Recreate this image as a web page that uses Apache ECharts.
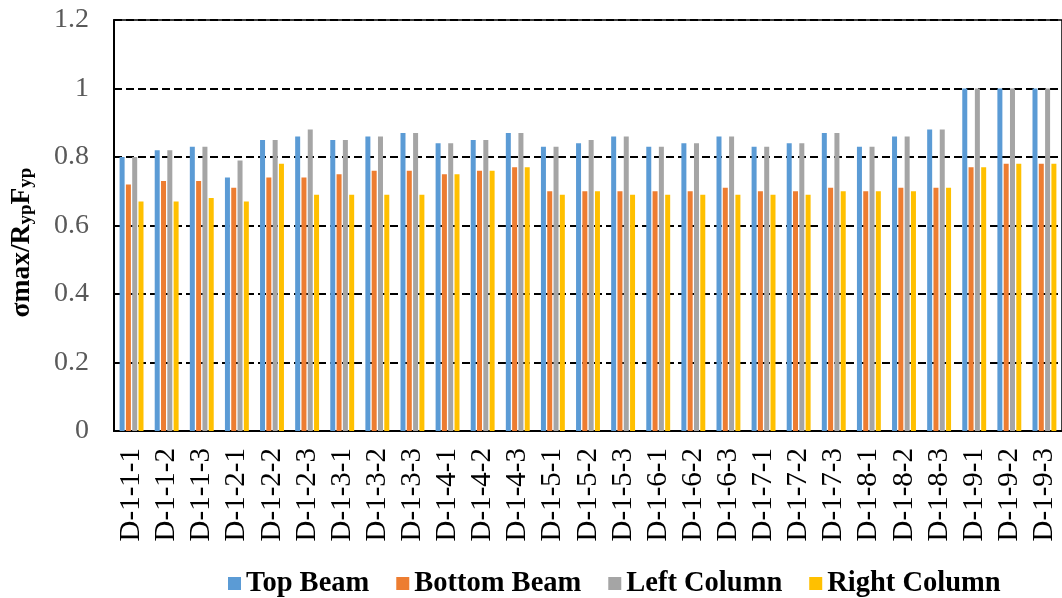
<!DOCTYPE html>
<html>
<head>
<meta charset="utf-8">
<script src="https://cdn.jsdelivr.net/npm/echarts@6/dist/echarts.min.js"></script>
<style>
html,body{margin:0;padding:0;background:#fff;}
#c{width:1062px;height:598px;}
</style>
</head>
<body>
<div id="c"></div>
<script>
const categories = ['D-1-1-1','D-1-1-2','D-1-1-3','D-1-2-1','D-1-2-2','D-1-2-3','D-1-3-1','D-1-3-2','D-1-3-3',
  'D-1-4-1','D-1-4-2','D-1-4-3','D-1-5-1','D-1-5-2','D-1-5-3','D-1-6-1','D-1-6-2','D-1-6-3',
  'D-1-7-1','D-1-7-2','D-1-7-3','D-1-8-1','D-1-8-2','D-1-8-3','D-1-9-1','D-1-9-2','D-1-9-3'];
const topBeam    = [0.80,0.82,0.83,0.74,0.85,0.86,0.85,0.86,0.87,0.84,0.85,0.87,0.83,0.84,0.86,0.83,0.84,0.86,0.83,0.84,0.87,0.83,0.86,0.88,1.00,1.00,1.00];
const bottomBeam = [0.72,0.73,0.73,0.71,0.74,0.74,0.75,0.76,0.76,0.75,0.76,0.77,0.70,0.70,0.70,0.70,0.70,0.71,0.70,0.70,0.71,0.70,0.71,0.71,0.77,0.78,0.78];
const leftColumn = [0.80,0.82,0.83,0.79,0.85,0.88,0.85,0.86,0.87,0.84,0.85,0.87,0.83,0.85,0.86,0.83,0.84,0.86,0.83,0.84,0.87,0.83,0.86,0.88,1.00,1.00,1.00];
const rightColumn= [0.67,0.67,0.68,0.67,0.78,0.69,0.69,0.69,0.69,0.75,0.76,0.77,0.69,0.70,0.69,0.69,0.69,0.69,0.69,0.69,0.70,0.70,0.70,0.71,0.77,0.78,0.78];
const seriesNames = ['Top Beam','Bottom Beam','Left Column','Right Column'];
const colors = ['#5B9BD5','#ED7D31','#A5A5A5','#FFC000'];

const chart = echarts.init(document.getElementById('c'));
const font = '"Liberation Serif","Times New Roman",serif';
const mk = (name, data, color) => ({
  name, type:'bar', data, barWidth:5, barGap:'26%',
  itemStyle:{color}
});
chart.setOption({
  animation:false,
  textStyle:{fontFamily:font},
  grid:{left:113, top:20, right:-2, bottom:167, show:true, borderColor:'#000', borderWidth:1.5, backgroundColor:'transparent'},
  legend:{
    data:seriesNames, left:223, top:564, itemWidth:13, itemHeight:13, itemGap:27, icon:'rect',
    textStyle:{fontFamily:font, fontSize:28.5, fontWeight:'bold', color:'#000'}
  },
  xAxis:{
    type:'category', data:categories,
    axisLine:{lineStyle:{color:'#000', width:2}},
    axisTick:{show:false},
    axisLabel:{rotate:90, fontFamily:font, fontSize:29, color:'#000', margin:17, interval:0}
  },
  yAxis:{
    type:'value', min:0, max:1.2, interval:0.2,
    axisLine:{show:true, lineStyle:{color:'#000', width:2}},
    axisTick:{show:false},
    axisLabel:{fontFamily:font, fontSize:28, color:'#595959', margin:25},
    splitLine:{lineStyle:{color:'#000', width:2, type:[8,4]}},
    name:'{m|σmax/R}{s|yp}{m|F}{s|yp}',
    nameLocation:'middle', nameGap:78, nameRotate:90,
    nameTextStyle:{
      padding:[0,34,0,0],
      rich:{
        m:{fontFamily:font, fontSize:27.5, fontWeight:'bold', color:'#000', verticalAlign:'bottom', lineHeight:32},
        s:{fontFamily:font, fontSize:19, fontWeight:'bold', color:'#000', verticalAlign:'bottom', lineHeight:26}
      }
    }
  },
  series:[
    mk(seriesNames[0], topBeam, colors[0]),
    mk(seriesNames[1], bottomBeam, colors[1]),
    mk(seriesNames[2], leftColumn, colors[2]),
    mk(seriesNames[3], rightColumn, colors[3])
  ]
});
</script>
</body>
</html>
